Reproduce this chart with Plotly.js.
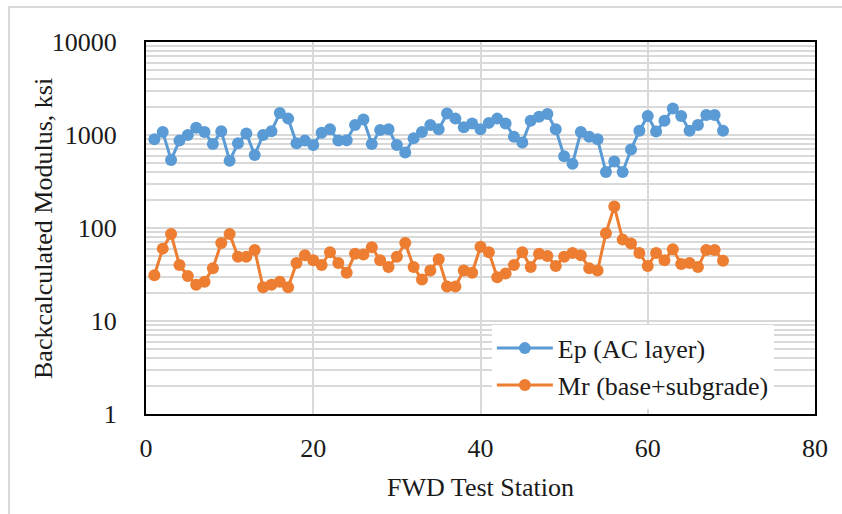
<!DOCTYPE html>
<html>
<head>
<meta charset="utf-8">
<script src="https://cdn.plot.ly/plotly-3.0.1.min.js"></script>
<style>
  html, body { margin: 0; padding: 0; background: #ffffff; overflow: hidden; }
  #frame { position: absolute; left: 8px; top: 6px; width: 900px; height: 600px;
           border-left: 2px solid #d9d9d9; border-top: 2px solid #d9d9d9; }
  #chart { position: absolute; left: 0; top: 0; width: 842px; height: 514px; }
</style>
</head>
<body>
<div id="frame"></div>
<div id="chart"></div>
<script>
// FWD test stations
const stations = [1,2,3,4,5,6,7,8,9,10,11,12,13,14,15,16,17,18,19,20,
  21,22,23,24,25,26,27,28,29,30,31,32,33,34,35,36,37,38,39,40,
  41,42,43,44,45,46,47,48,49,50,51,52,53,54,55,56,57,58,59,60,
  61,62,63,64,65,66,67,68,69];

// Ep (AC layer), ksi
const epValues = [900,1080,540,870,1000,1200,1080,800,1100,530,
  815,1040,610,1000,1100,1720,1500,815,870,780,
  1060,1150,870,880,1280,1470,800,1130,1150,780,
  650,920,1080,1280,1150,1700,1500,1210,1330,1150,
  1350,1500,1330,960,830,1420,1570,1680,1150,590,
  490,1080,960,900,400,520,400,700,1110,1600,
  1090,1420,1930,1600,1110,1280,1640,1640,1110];

// Mr (base+subgrade), ksi
const mrValues = [31,60,86,40,30.5,24.5,26.5,37,69,86,
  49,49,58,23,24.5,26.5,23,42,51,45,
  40,55,42,33,53,52,62,45,38,49,
  69,38,28,35,46,23.5,23.5,35,33,63,
  55,29.5,32.5,40,55,38,53,50,39,49,
  54,51,37,35,88,170,75,68,54,39,
  54,45,59,41,42,38,58,58,44.5];

const seriesNames = ['Ep (AC layer)', 'Mr (base+subgrade)'];
const seriesColors = ['#5B9BD5', '#ED7D31'];

const yTickVals = [1, 10, 100, 1000, 10000];
const yTickText = ['1', '10', '100', '1000', '10000'];
const xTickVals = [0, 20, 40, 60, 80];

const xTitle = 'FWD Test Station';
const yTitle = 'Backcalculated Modulus, ksi';

const fontFamily = 'Liberation Serif, Times New Roman, serif';
const textColor = '#1a1a1a';
const fontSize = 26;

const traces = [
  {
    x: stations, y: epValues, name: seriesNames[0], type: 'scatter', mode: 'lines+markers',
    line: { color: seriesColors[0], width: 3 },
    marker: { color: seriesColors[0], size: 12 }
  },
  {
    x: stations, y: mrValues, name: seriesNames[1], type: 'scatter', mode: 'lines+markers',
    line: { color: seriesColors[1], width: 3 },
    marker: { color: seriesColors[1], size: 12 }
  }
];

const layout = {
  width: 842, height: 514,
  margin: { l: 146, r: 27, t: 42, b: 100, pad: 0 },
  paper_bgcolor: 'rgba(0,0,0,0)',
  plot_bgcolor: '#ffffff',
  font: { family: fontFamily, size: fontSize, color: textColor },
  showlegend: true,
  legend: {
    x: 0.517, y: 0.24, xanchor: 'left', yanchor: 'top',
    bgcolor: '#ffffff', borderwidth: 0,
    font: { family: fontFamily, size: fontSize, color: textColor },
    tracegroupgap: 0, itemwidth: 56
  },
  xaxis: {
    range: [0, 80], tickvals: xTickVals, ticktext: xTickVals.map(String),
    showgrid: true, gridcolor: '#d9d9d9', gridwidth: 2,
    zeroline: false, showline: true, mirror: true, linecolor: '#000000', linewidth: 2,
    ticks: '', ticklabelstandoff: 10,
    title: { text: xTitle, font: { family: fontFamily, size: fontSize, color: textColor }, standoff: 16 }
  },
  yaxis: {
    type: 'log', range: [0, 4], tickvals: yTickVals, ticktext: yTickText,
    showgrid: true, gridcolor: '#d9d9d9', gridwidth: 2,
    minor: { showgrid: true, gridcolor: '#d9d9d9', gridwidth: 2, dtick: 'D1', ticks: '' },
    zeroline: false, showline: true, mirror: true, linecolor: '#000000', linewidth: 2,
    ticks: '', ticklabelstandoff: 22
  },
  annotations: [
    {
      text: yTitle, xref: 'paper', yref: 'paper', x: -0.154, y: 0.5,
      xanchor: 'center', yanchor: 'middle', textangle: -90, showarrow: false,
      font: { family: fontFamily, size: fontSize, color: textColor }
    }
  ]
};

Plotly.newPlot('chart', traces, layout, { displayModeBar: false, staticPlot: true });
</script>
</body>
</html>
